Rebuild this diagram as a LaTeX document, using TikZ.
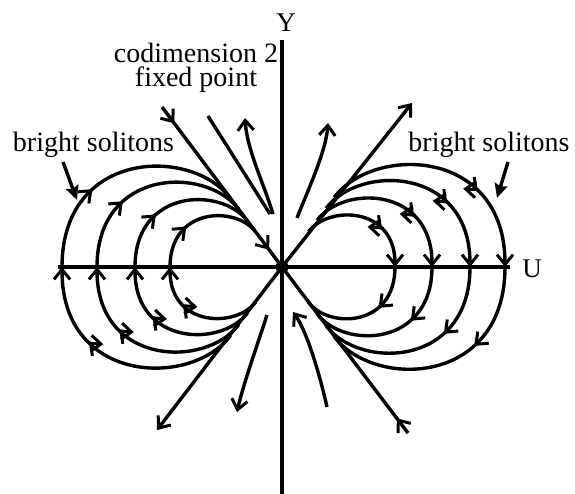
\documentclass[tikz,border=0pt]{standalone}
\usepackage{fontspec}
\setmainfont{Liberation Serif}
\usetikzlibrary{arrows.meta,decorations.markings}
\tikzset{
  flow/.style={line width=3.4pt},
  axis/.style={line width=3.4pt},
  >={Straight Barb[length=10pt,width=16pt,line width=3pt]},
  barbstroke/.style={line width=3pt, line join=miter},
  midarrows/.style={postaction={decorate}, decoration={markings,
      mark=at position #1 with {\draw[barbstroke] (-10pt,8pt) -- (0pt,0pt) -- (-10pt,-8pt);}}},
  firsthalf/.style={flow, ->, midarrows=0.65},
  secondhalf/.style={flow, midarrows=0.35},
  lbl/.style={font=\fontsize{28}{24}\selectfont, inner sep=0pt, anchor=base},
  axlbl/.style={font=\fontsize{27}{27}\selectfont, inner sep=0pt, anchor=base},
  pointer/.style={line width=3.4pt, -{Stealth[length=14pt,width=13pt,inset=2pt]}},
}
% coordinates: x = pixel column, y = minus pixel row
% #1 = side sign ((-1) left, 1 right), #2 = distance of the axis crossing
\newcommand\lemloop[2]{%
  \draw[firsthalf] ({282+#1*0.234*#2},{-267+#1*0.312*#2})
     .. controls ({282+#1*0.411*#2},{-267+#1*0.548*#2}) and ({282+#1*#2},{-267+#1*0.536*#2})
     .. ({282+#1*#2},-267);
  \draw[secondhalf] ({282+#1*#2},-267)
     .. controls ({282+#1*#2},{-267-#1*0.536*#2}) and ({282+#1*0.411*#2},{-267-#1*0.548*#2})
     .. ({282+#1*0.234*#2},{-267-#1*0.312*#2});
}
\begin{document}
\begin{tikzpicture}[x=1pt,y=1pt]
\useasboundingbox (0,0) rectangle (575,-494);
% coordinates
\coordinate (O) at (282,-267);
\coordinate (ytop) at (282,-40);
\coordinate (ybot) at (282,-494);
\coordinate (uleft) at (58,-267);
\coordinate (uright) at (510,-267);
\coordinate (ul) at (162,-107);
\coordinate (ur) at (412,-103);
\coordinate (ll) at (157,-430);
\coordinate (lr) at (408,-433);
% axes
\draw[axis] (ytop) -- (ybot);
\draw[axis] (uleft) -- (uright);
% loops
\lemloop{(-1)}{220}
\lemloop{(-1)}{185}
\lemloop{(-1)}{147}
\lemloop{(-1)}{112}
\lemloop{1}{113}
\lemloop{1}{150}
\lemloop{1}{188}
\lemloop{1}{223}
% manifolds
\draw[flow, postaction={decorate}, decoration={markings,
   mark=at position 18pt with {\draw[barbstroke] (-10pt,8pt) -- (0pt,0pt) -- (-10pt,-8pt);},
   mark=at position 176pt with {\draw[barbstroke] (-10pt,8pt) -- (0pt,0pt) -- (-10pt,-8pt);}}] (ul) -- (O);
\draw[flow, midarrows=16pt] (lr) -- (O);
\draw[flow,->] (O) -- (ur);
\draw[flow,->] (O) -- (ll);
% other trajectories
\coordinate (a1) at (208,-116); \coordinate (a2) at (270,-214);
\draw[flow] (a1) -- (a2);
\coordinate (b1) at (273,-214); \coordinate (b2) at (245,-118);
\draw[flow,->] (b1) .. controls (264,-184) and (247,-150) .. (b2);
\coordinate (c1) at (297,-218); \coordinate (c2) at (328,-123);
\draw[flow,->] (c1) .. controls (307,-192) and (326,-152) .. (c2);
\coordinate (d1) at (327,-407); \coordinate (d2) at (293,-312);
\draw[flow,->] (d1) .. controls (321,-380) and (308,-333) .. (d2);
\coordinate (e1) at (267,-315); \coordinate (e2) at (237,-412);
\draw[flow,->] (e1) .. controls (259,-340) and (243,-385) .. (e2);
% fixed point
\node[circle, fill, inner sep=0pt, minimum size=13pt] (fp) at (O) {};
% labels
\node[axlbl] (Y) at (286,-32) {Y};
\node[axlbl] (U) at (532,-277) {U};
\node[lbl, align=center] (cod) at (196,-87) {codimension 2\\fixed point};
\node[lbl] (bsl) at (93.5,-152) {bright solitons};
\node[lbl] (bsr) at (489,-152) {bright solitons};
\coordinate (pl) at (77,-200);
\coordinate (pr) at (497,-198);
\draw[pointer] (63,-162) -- (pl);
\draw[pointer] (508,-162) -- (pr);
\end{tikzpicture}
\end{document}
